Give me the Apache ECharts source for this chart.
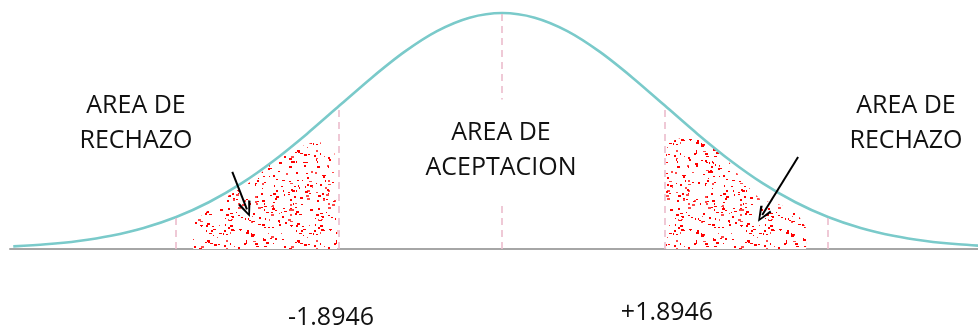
<!DOCTYPE html>
<html>
<head>
<meta charset="utf-8">
<script src="https://cdn.jsdelivr.net/npm/echarts@6/dist/echarts.min.js"></script>
<style>
html,body{margin:0;padding:0;background:#fff;}
#chart{width:978px;height:331px;}
</style>
</head>
<body>
<div id="chart"></div>
<script>
// ---- data ----
var curveZ = [-3,-2.8,-2.6,-2.4,-2.2,-2,-1.8,-1.6,-1.4,-1.2,-1,-0.8,-0.6,-0.4,-0.2,0,0.2,0.4,0.6,0.8,1,1.2,1.4,1.6,1.8,2,2.2,2.4,2.6,2.8,3];
var curveY = [0.0044,0.0079,0.0136,0.0224,0.0355,0.0540,0.0790,0.1109,0.1497,0.1942,0.2420,0.2897,0.3332,0.3683,0.3910,0.3989,0.3910,0.3683,0.3332,0.2897,0.2420,0.1942,0.1497,0.1109,0.0790,0.0540,0.0355,0.0224,0.0136,0.0079,0.0044];
var guideZ = [-2,-1,0,1,2];
var guideY = [0.0540,0.2420,0.3989,0.2420,0.0540];
var leftRegZ = [-1.896,-1.896,-1.816,-1.724,-1.601,-1.509,-1.417,-1.294,-1.172,-1.080,-1.031,-1.012,-1.012];
var leftRegY = [0,0.0456,0.0626,0.0828,0.1031,0.1200,0.1454,0.1674,0.1792,0.1809,0.1707,0.0320,0];
var rightRegZ = [1.006,1.006,1.098,1.221,1.325,1.405,1.497,1.589,1.712,1.816,1.865,1.865];
var rightRegY = [0,0.1790,0.1877,0.1843,0.1707,0.1420,0.1080,0.0828,0.0744,0.0575,0.0355,0];
var arrowFrom = [[-1.656,0.1302],[1.816,0.1555]];
var arrowTo = [[-1.566,0.0669],[1.596,0.0576]];
var regionLabels = ['AREA DE\nRECHAZO','AREA DE\nACEPTACION','AREA DE\nRECHAZO'];
var tickLabels = ['-1.8946','+1.8946'];

function pairs(xs, ys){ return xs.map(function(x,i){ return [x, ys[i]]; }); }

// speckle texture (style only)
var T = 90;
var tex = document.createElement('canvas');
tex.width = T; tex.height = T;
var ctx = tex.getContext('2d');
ctx.fillStyle = '#ffffff';
ctx.fillRect(0, 0, T, T);
var s = 987654;
function nxt(){ s = (s * 1103515245 + 12345) % 2147483648; return s / 2147483648; }
for (var i = 0; i < 260; i++) {
  var x = Math.floor(nxt()*T), y = Math.floor(nxt()*T);
  var r = nxt();
  var w = r < 0.5 ? 2 : (r < 0.8 ? 3 : 1), h = nxt() < 0.6 ? 2 : 1;
  ctx.fillStyle = nxt() < 0.7 ? '#ff0000' : '#ff4848';
  ctx.fillRect(x, y, w, h);
}

var chart = echarts.init(document.getElementById('chart'), null, {renderer:'canvas'});

var guideLines = guideZ.map(function(z,i){ return [{coord:[z,0]},{coord:[z,guideY[i]]}]; });
var arrowLines = arrowFrom.map(function(f,i){ return [{coord:f},{coord:arrowTo[i]}]; });

var font = '25px "Open Sans"';
var option = {
  animation:false,
  backgroundColor:'#fff',
  grid:{left:10, right:0, top:12.4, bottom:82},
  xAxis:{type:'value', min:-3.02, max:2.92,
    axisLine:{show:true, onZero:false, lineStyle:{color:'#a6a6a6', width:2}},
    axisTick:{show:false}, axisLabel:{show:false}, splitLine:{show:false}},
  yAxis:{type:'value', min:0, max:0.4, show:false, splitLine:{show:false}},
  series:[
    {type:'line', data:pairs(leftRegZ,leftRegY), symbol:'none', lineStyle:{width:0, opacity:0},
     areaStyle:{color:{image:tex, repeat:'repeat'}, opacity:1}, z:2, silent:true},
    {type:'line', data:pairs(rightRegZ,rightRegY), symbol:'none', lineStyle:{width:0, opacity:0},
     areaStyle:{color:{image:tex, repeat:'repeat'}, opacity:1}, z:2, silent:true},
    {type:'line', data:pairs(curveZ,curveY), smooth:0.3, symbol:'none',
     lineStyle:{color:'#7acaca', width:2.6}, z:4,
     markLine:{silent:true, symbol:['none','none'], label:{show:false},
       lineStyle:{color:'#ecbccc', width:1.6, type:[7,5]}, data:guideLines}},
    {type:'line', data:[], z:6,
     markLine:{silent:true, symbol:['none','path://M5,0 L10,12 L8.4,13 L5,3.4 L1.6,13 L0,12 Z'], symbolSize:[13,16],
       label:{show:false}, lineStyle:{color:'#000', width:2, type:'solid'}, data:arrowLines}}
  ],
  graphic:[
    {type:'text', x:136, y:123, z:10, style:{text:regionLabels[0], align:'center', verticalAlign:'middle', font:font, lineHeight:35, fill:'#111'}},
    {type:'text', x:501, y:150.5, z:10, style:{text:regionLabels[1], align:'center', verticalAlign:'middle', font:font, lineHeight:35, fill:'#111', backgroundColor:'#fff', padding:[16,8]}},
    {type:'text', x:906, y:123, z:10, style:{text:regionLabels[2], align:'center', verticalAlign:'middle', font:font, lineHeight:35, fill:'#111'}},
    {type:'text', x:331, y:318, z:10, style:{text:tickLabels[0], align:'center', verticalAlign:'middle', font:font, fill:'#111'}},
    {type:'text', x:667, y:313, z:10, style:{text:tickLabels[1], align:'center', verticalAlign:'middle', font:font, fill:'#111'}}
  ]
};
chart.setOption(option);
</script>
</body>
</html>
